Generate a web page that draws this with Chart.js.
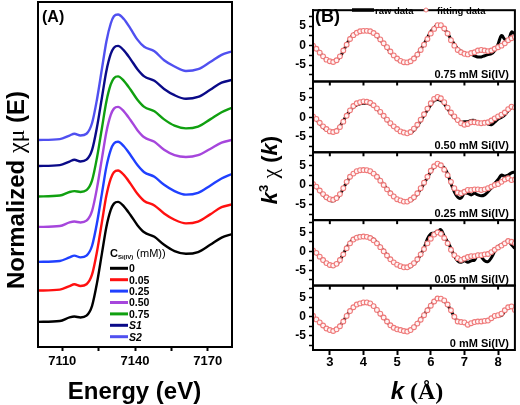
<!DOCTYPE html>
<html><head><meta charset="utf-8">
<script src="https://cdn.jsdelivr.net/npm/chart.js@4.4.0/dist/chart.umd.min.js"></script>
<style>
html,body{margin:0;padding:0;background:#fff;}
#wrap{position:relative;width:520px;height:405px;}
canvas{position:absolute;left:0;top:0;}
</style></head><body>
<div id="wrap"><canvas id="ca" width="520" height="405"></canvas><canvas id="cb" width="520" height="405"></canvas></div>
<script>
// ---------- Panel A data ----------
const energy = [7100, 7109, 7113, 7115, 7117.5, 7120, 7122.3, 7124.3, 7126.4, 7128.2, 7130, 7131.3, 7133, 7135.4, 7138.2, 7141, 7143.8, 7148, 7152, 7156.3, 7161, 7166, 7171, 7175.7, 7180];
const seriesNamesA = ['0', '0.05', '0.25', '0.50', '0.75', 'S1', 'S2'];
const muC0   = [0.00, 0.01, 0.05, 0.06, 0.05, 0.07, 0.18, 0.43, 0.77, 1.06, 1.25, 1.32, 1.34, 1.29, 1.19, 1.08, 1.00, 0.95, 0.86, 0.79, 0.76, 0.78, 0.86, 0.94, 0.98];
const muC005 = [0.35, 0.36, 0.40, 0.42, 0.40, 0.42, 0.53, 0.78, 1.12, 1.41, 1.60, 1.67, 1.69, 1.64, 1.54, 1.43, 1.35, 1.30, 1.21, 1.14, 1.10, 1.12, 1.20, 1.28, 1.31];
const muC025 = [0.67, 0.68, 0.72, 0.74, 0.72, 0.74, 0.85, 1.10, 1.44, 1.73, 1.92, 1.99, 2.01, 1.96, 1.86, 1.75, 1.67, 1.62, 1.53, 1.46, 1.42, 1.44, 1.52, 1.60, 1.65];
const muC050 = [1.06, 1.07, 1.11, 1.12, 1.11, 1.13, 1.24, 1.49, 1.83, 2.12, 2.31, 2.38, 2.40, 2.35, 2.25, 2.14, 2.06, 2.01, 1.92, 1.86, 1.84, 1.86, 1.93, 2.00, 2.03];
const muC075 = [1.40, 1.41, 1.45, 1.46, 1.45, 1.47, 1.58, 1.83, 2.17, 2.46, 2.65, 2.72, 2.74, 2.69, 2.59, 2.48, 2.40, 2.35, 2.26, 2.19, 2.16, 2.18, 2.26, 2.34, 2.39];
const muS1   = [1.74, 1.75, 1.79, 1.81, 1.79, 1.81, 1.92, 2.17, 2.51, 2.80, 2.99, 3.06, 3.08, 3.03, 2.93, 2.82, 2.74, 2.69, 2.60, 2.53, 2.49, 2.51, 2.59, 2.67, 2.70];
const muS2   = [2.03, 2.04, 2.08, 2.10, 2.08, 2.10, 2.22, 2.48, 2.83, 3.13, 3.33, 3.41, 3.43, 3.38, 3.27, 3.15, 3.07, 3.02, 2.92, 2.85, 2.80, 2.82, 2.90, 2.98, 3.02];
const energyTicks = [7110, 7125, 7140, 7155, 7170];
const energyLabels = [7110, 7140, 7170];

// ---------- Panel B data ----------
const kGrid = [2.5,2.6,2.7,2.8,2.9,3.0,3.1,3.2,3.3,3.4,3.5,3.6,3.7,3.8,3.9,4.0,4.1,4.2,4.3,4.4,4.5,4.6,4.7,4.8,4.9,5.0,5.1,5.2,5.3,5.4,5.5,5.6,5.7,5.8,5.9,6.0,6.1,6.2,6.3,6.4,6.5,6.6,6.7,6.8,6.9,7.0,7.1,7.2,7.3,7.4,7.5,7.6,7.7,7.8,7.9,8.0,8.1,8.2,8.3,8.4,8.5];
const kTicks = [3, 4, 5, 6, 7, 8];
const chiTicks = [-7.5, -5, -2.5, 0, 2.5, 5, 7.5];
const chiLabels = [-5, 0, 5];
const panelNamesB = ['0.75 mM Si(IV)', '0.50 mM Si(IV)', '0.25 mM Si(IV)', '0.05 mM Si(IV)', '0 mM Si(IV)'];

const raw075 = [0,-0.8,-1.8,-2.8,-3.6,-4.0,-4.2,-3.8,-2.9,-1.4, 0.3,1.9,2.9,3.4,3.7,3.8,3.8,3.6,3.2,2.5, 1.5,0.5,-0.5,-1.6,-2.6,-3.4,-4.0,-4.35,-4.4,-4.0, -3.3,-2.3,-1.0,0.5,2.0,3.6,4.6,5.3,5.1,4.3, 3.2,1.6,0.4,-0.8,-1.4,-2.1,-2.3,-2.2,-2.6,-2.9, -2.9,-2.6,-2.3,-2.1,-1.3,0.4,2.6,1.6,1.2,3.5, 2.8];
const fit075 = [0,-0.8,-1.8,-2.75,-3.6,-4.0,-4.2,-3.75,-2.75,-1.25, 0.25,1.7,2.7,3.3,3.7,3.8,3.8,3.7,3.25,2.6, 1.6,0.6,-0.4,-1.5,-2.5,-3.3,-3.9,-4.25,-4.3,-4.0, -3.3,-2.3,-1.1,0.25,1.7,3.1,4.3,5.25,5.25,4.4, 3.1,1.4,0,-1.1,-1.7,-2.1,-2.25,-1.9,-1.7,-1.25, -1.1,-1.25,-1.4,-1.25,-0.8,-0.4,0,0.6,1.4,1.9, 2.25];
const raw050 = [0.2,-0.6,-1.6,-2.6,-3.3,-3.7,-3.7,-3.3,-2.3,-0.9, 0.5,1.7,2.6,3.2,3.5,3.6,3.6,3.4,2.9,2.2, 1.3,0.3,-0.7,-1.6,-2.4,-3.1,-3.6,-3.9,-4.1,-4.0, -3.3,-2.2,-0.9,0.5,1.9,3.2,4.3,4.6,4.3,3.5, 2.2,1.0,0,-0.8,-1.25,-1.1,-1.1,-0.8,-0.8,-1.25, -1.4,-1.25,-1.7,-1.9,-1.25,-0.4,0,0.6,1.7,2.5, 2.9];
const fit050 = [0.25,-0.4,-1.4,-2.3,-3.0,-3.6,-3.75,-3.5,-2.5,-1.1, 0.4,1.8,2.9,3.6,3.9,4.1,4.0,3.75,3.1,2.3, 1.4,0.4,-0.6,-1.5,-2.3,-3.0,-3.6,-3.9,-4.1,-3.75, -2.9,-1.9,-0.6,0.8,2.25,3.6,4.75,5.25,4.9,3.9, 2.5,1.25,0.25,-0.7,-1.5,-1.9,-1.7,-1.25,-1.25,-1.4, -1.5,-1.4,-1.25,-0.8,-0.25,0.25,0.7,1.25,2.1,2.75, 2.5];
const raw025 = [0.25,-0.5,-1.5,-2.5,-3.3,-3.9,-4.0,-3.5,-2.4,-0.9, 0.7,2.0,2.9,3.5,3.8,3.9,3.8,3.6,3.0,2.2, 1.2,0.1,-1.0,-2.0,-2.8,-3.5,-3.9,-4.1,-4.2,-3.9, -3.3,-2.3,-1.0,0.4,1.9,3.4,4.6,5.25,4.75,4.4, 2.9,0.4,-1.7,-3.1,-3.3,-2.1,-2.1,-2.5,-2.1,-2.5, -2.75,-2.5,-1.7,-0.8,0.4,1.4,2.5,2.25,2.5,3.1, 3.3];
const fit025 = [0.25,-0.4,-1.4,-2.3,-3.1,-3.6,-3.75,-3.3,-2.3,-0.8, 0.8,2.1,2.9,3.5,3.75,3.8,3.75,3.5,2.9,2.1, 1.1,0,-1.1,-2.1,-2.9,-3.6,-3.9,-4.2,-4.2,-3.75, -3.1,-2.1,-0.8,0.6,2.1,3.6,4.75,5.4,5.0,3.9, 2.5,0.8,-0.8,-1.9,-2.1,-1.7,-1.25,-1.25,-1.1,-1.1, -1.25,-1.1,-0.8,-0.4,0,0.25,0.8,1.4,1.7,1.25, 1.4];
const raw005 = [0.25,-0.5,-1.5,-2.4,-3.2,-3.7,-3.9,-3.4,-2.3,-0.7, 1.0,2.3,3.3,3.8,4.0,4.0,3.9,3.75,3.2,2.3, 1.2,0.1,-1.1,-2.1,-2.9,-3.6,-4.0,-4.2,-4.4,-4.0, -3.3,-2.3,-0.8,0.8,3.3,4.6,4.8,5.2,5.7,4.0, 2.5,0.8,-1.25,-2.5,-2.9,-2.5,-2.9,-2.5,-2.3,-0.8, -1.5,-2.5,-2.7,-1.7,0,1.25,1.8,2.1,2.9,1.7, 0.8];
const fit005 = [0.25,-0.4,-1.4,-2.3,-3.1,-3.6,-3.75,-3.3,-2.3,-0.8, 0.8,2.1,3.1,3.6,3.8,3.9,3.8,3.5,2.9,2.1, 1.1,0,-1.1,-2.1,-2.9,-3.5,-3.9,-4.2,-4.2,-3.75, -3.1,-2.1,-0.8,0.6,2.1,3.3,4.4,5.0,4.6,3.5, 2.1,0.4,-1.0,-1.8,-2.25,-1.9,-1.5,-1.25,-1.25,-1.0, -1.0,-0.8,-0.7,-0.2,0.4,1.0,1.5,2.1,2.7,2.5, 2.1];
const raw000 = [0.2,-0.7,-1.6,-2.4,-3.1,-3.6,-3.75,-3.3,-2.4,-1.2, 0.3,1.5,2.5,3.2,3.5,3.7,3.75,3.5,2.8,1.8, 0.8,-0.3,-1.3,-2.25,-2.9,-3.3,-3.5,-3.8,-3.9,-3.5, -2.7,-1.8,-0.7,0.5,1.8,3.0,4.0,4.8,4.7,4.2, 3.1,1.6,0,-1.2,-1.4,-1.6,-2.0,-1.7,-1.4,-1.25, -1.2,-1.1,-1.0,-0.4,0.1,0.4,0.3,1.5,2.5,2.7, 1.9];
const fit000 = [0.25,-0.7,-1.5,-2.3,-3.1,-3.5,-3.75,-3.3,-2.5,-1.25, 0.2,1.5,2.5,3.2,3.5,3.75,3.75,3.5,2.8,1.8, 0.8,-0.2,-1.25,-2.25,-2.9,-3.3,-3.5,-3.75,-3.9,-3.5, -2.75,-1.8,-0.8,0.4,1.7,2.9,4.0,4.8,4.75,4.3, 3.2,1.7,0,-1.25,-1.4,-1.5,-2.1,-1.7,-1.4,-1.25, -1.25,-1.1,-1.0,-0.4,0.2,0.4,0.8,1.7,2.5,2.7, 1.8];

// ---------- helpers ----------
const SANS = '"Liberation Sans", Arial, Helvetica, sans-serif';
const SERIF = '"Liberation Serif", "Times New Roman", serif';
function rich(ctx, parts, x, y, align) {
  let w = 0;
  parts.forEach(p => { ctx.font = p.f; p.w = ctx.measureText(p.t).width; w += p.w; });
  let cx = align === 'center' ? x - w / 2 : (align === 'right' ? x - w : x);
  ctx.textAlign = 'left'; ctx.textBaseline = 'alphabetic';
  parts.forEach(p => { ctx.font = p.f; ctx.fillText(p.t, cx, y + (p.dy || 0)); cx += p.w; });
}
function richRot(ctx, parts, bx, cy) {
  ctx.save(); ctx.translate(bx, cy); ctx.rotate(-Math.PI / 2); rich(ctx, parts, 0, 0, 'center'); ctx.restore();
}

// ---------- Panel A ----------
const colorsA = ['#000000', '#ff1010', '#2040ff', '#a646dc', '#10a010', '#0a0a88', '#5050f0'];
const valuesA = [muC0, muC005, muC025, muC050, muC075, muS1, muS2];
const dsA = valuesA.map((vals, i) => ({
  label: seriesNamesA[i],
  data: energy.map((e, j) => ({x: e, y: vals[j]})),
  borderColor: colorsA[i], borderWidth: 2.4, pointRadius: 0,
  cubicInterpolationMode: 'monotone', fill: false, order: 10 - i
}));

const panelAPlugin = {
  id: 'panelA',
  afterDraw(chart) {
    const ctx = chart.ctx, a = chart.chartArea;
    ctx.save();
    ctx.strokeStyle = '#000'; ctx.lineWidth = 2;
    ctx.strokeRect(a.left, a.top, a.right - a.left, a.bottom - a.top);
    ctx.fillStyle = '#000';
    rich(ctx, [{t: '(A)', f: 'bold 16px ' + SANS}], 42, 22, 'left');
    // legend
    rich(ctx, [{t: 'C', f: 'bold 11px ' + SANS}, {t: 'Si(IV)', f: 'bold 6px ' + SANS, dy: 2}, {t: ' (mM))', f: '11px ' + SANS}], 110, 257, 'left');
    seriesNamesA.forEach((n, i) => {
      const y = 268.3 + i * 11.4;
      ctx.strokeStyle = colorsA[i]; ctx.lineWidth = 3;
      ctx.beginPath(); ctx.moveTo(110, y); ctx.lineTo(128, y); ctx.stroke();
      const it = (n[0] === 'S') ? 'italic bold ' : 'bold ';
      rich(ctx, [{t: n, f: it + '10.5px ' + SANS}], 129, y + 3.8, 'left');
    });
    // axis titles
    richRot(ctx, [{t: 'Normalized ', f: 'bold 24px ' + SANS}, {t: 'χμ', f: '24px ' + SERIF}, {t: ' (E)', f: 'bold 24px ' + SANS}], 24, 190);
    rich(ctx, [{t: 'Energy (eV)', f: 'bold 24px ' + SANS}], 134.5, 399, 'center');
    ctx.restore();
  }
};

new Chart(document.getElementById('ca'), {
  type: 'line',
  data: {datasets: dsA},
  options: {
    responsive: false, animation: false, devicePixelRatio: 1,
    layout: {padding: {left: 38, right: 288, top: 2, bottom: 0}},
    plugins: {legend: {display: false}, tooltip: {enabled: false}},
    scales: {
      x: {
        type: 'linear', min: 7100, max: 7180,
        afterBuildTicks: s => { s.ticks = energyTicks.map(v => ({value: v})); },
        afterFit: s => { s.height = 58; },
        ticks: {autoSkip: false, maxRotation: 0, padding: 3, color: '#000',
          font: {family: SANS, size: 13, weight: 'bold'},
          callback: v => energyLabels.includes(v) ? String(v) : ''},
        grid: {display: true, drawOnChartArea: false, drawTicks: true, tickLength: 4, tickWidth: 2, tickColor: '#000'},
        border: {display: true, color: '#000', width: 2}
      },
      y: {type: 'linear', display: false, min: -0.28, max: 3.57}
    }
  },
  plugins: [panelAPlugin]
});

// ---------- Panel B ----------
const rawB = [raw075, raw050, raw025, raw005, raw000];
const fitB = [fit075, fit050, fit025, fit005, fit000];
const rangesB = [[-9.2, 9.1], [-8.95, 9.2], [-8.9, 8.3], [-9.0, 8.2], [-8.75, 8.2]];
const weightsB = [73, 72.5, 69.5, 67, 66];
const dsB = [];
fitB.forEach((vals, i) => dsB.push({
  label: 'fitting data', yAxisID: 'y' + i, showLine: false,
  data: kGrid.map((k, j) => ({x: k, y: vals[j]})),
  pointRadius: 2.4, pointBorderWidth: 1.1, pointBorderColor: '#ef7a7a', pointBackgroundColor: '#fff4f4', order: 0
}));
rawB.forEach((vals, i) => dsB.push({
  label: 'raw data', yAxisID: 'y' + i,
  data: kGrid.map((k, j) => ({x: k, y: vals[j]})),
  borderColor: '#000', borderWidth: 3, pointRadius: 0, tension: 0.35, order: 1
}));

const scalesB = {
  x: {
    type: 'linear', min: 2.5, max: 8.5,
    afterBuildTicks: s => { s.ticks = kTicks.map(v => ({value: v})); },
    afterFit: s => { s.height = 55; },
    ticks: {autoSkip: false, maxRotation: 0, padding: 0, color: '#000', font: {family: SANS, size: 13, weight: 'bold'}},
    grid: {display: true, drawOnChartArea: false, drawTicks: true, tickLength: 5, tickWidth: 2, tickColor: '#000'},
    border: {display: true, color: '#000', width: 2}
  }
};
[4, 3, 2, 1, 0].forEach(i => {
  scalesB['y' + i] = {
    type: 'linear', position: 'left', stack: 'chi', stackWeight: weightsB[i],
    min: rangesB[i][0], max: rangesB[i][1],
    afterBuildTicks: s => { s.ticks = chiTicks.map(v => ({value: v})); },
    afterFit: s => { s.width = 25; },
    ticks: {autoSkip: false, padding: 3, color: '#000', font: {family: SANS, size: 12, weight: 'bold'},
      callback: v => chiLabels.includes(v) ? String(v) : ''},
    grid: {display: true, drawOnChartArea: false, drawTicks: true, tickLength: 4, tickWidth: 1.5, tickColor: '#000'},
    border: {display: true, color: '#000', width: 2}
  };
});

const panelBPlugin = {
  id: 'panelB',
  afterDraw(chart) {
    const ctx = chart.ctx, a = chart.chartArea, xs = chart.scales.x;
    ctx.save();
    ctx.strokeStyle = '#000'; ctx.fillStyle = '#000';
    for (let i = 0; i < 5; i++) {
      const s = chart.scales['y' + i];
      ctx.lineWidth = 2;
      ctx.strokeRect(a.left, s.top, a.right - a.left, s.bottom - s.top);
      if (i < 4) {
        ctx.lineWidth = 2;
        kTicks.forEach(k => {
          const px = xs.getPixelForValue(k);
          ctx.beginPath(); ctx.moveTo(px, s.bottom); ctx.lineTo(px, s.bottom + 4); ctx.stroke();
        });
      }
      rich(ctx, [{t: panelNamesB[i], f: 'bold 11px ' + SANS}], 509, s.bottom - 3, 'right');
    }
    rich(ctx, [{t: '(B)', f: 'bold 18px ' + SANS}], 315, 22, 'left');
    // legend
    ctx.lineWidth = 3.5; ctx.strokeStyle = '#000';
    ctx.beginPath(); ctx.moveTo(352, 10); ctx.lineTo(374, 10); ctx.stroke();
    rich(ctx, [{t: 'raw data', f: 'bold 9.5px ' + SANS}], 375, 13.5, 'left');
    ctx.lineWidth = 1; ctx.strokeStyle = '#ef7a7a'; ctx.fillStyle = '#fff';
    ctx.beginPath(); ctx.arc(426, 10, 2, 0, Math.PI * 2); ctx.fill(); ctx.stroke();
    ctx.fillStyle = '#000';
    rich(ctx, [{t: 'fitting data', f: 'bold 9.5px ' + SANS}], 437, 13.5, 'left');
    // axis titles
    richRot(ctx, [{t: 'k', f: 'italic bold 22px ' + SANS}, {t: '3', f: 'bold 13px ' + SANS, dy: -9}, {t: ' ', f: 'bold 22px ' + SANS}, {t: 'χ', f: '22px ' + SERIF}, {t: ' (', f: 'bold 22px ' + SANS}, {t: 'k', f: 'italic bold 22px ' + SANS}, {t: ')', f: 'bold 22px ' + SANS}], 277, 170);
    rich(ctx, [{t: 'k', f: 'italic bold 24px ' + SANS}, {t: ' (Å)', f: 'bold 24px ' + SERIF}], 417, 399, 'center');
    ctx.restore();
  }
};

new Chart(document.getElementById('cb'), {
  type: 'line',
  data: {datasets: dsB},
  options: {
    responsive: false, animation: false, devicePixelRatio: 1,
    layout: {padding: {left: 288, right: 2, top: 2, bottom: 0}},
    plugins: {legend: {display: false}, tooltip: {enabled: false}},
    scales: scalesB
  },
  plugins: [panelBPlugin]
});
</script>
</body></html>
